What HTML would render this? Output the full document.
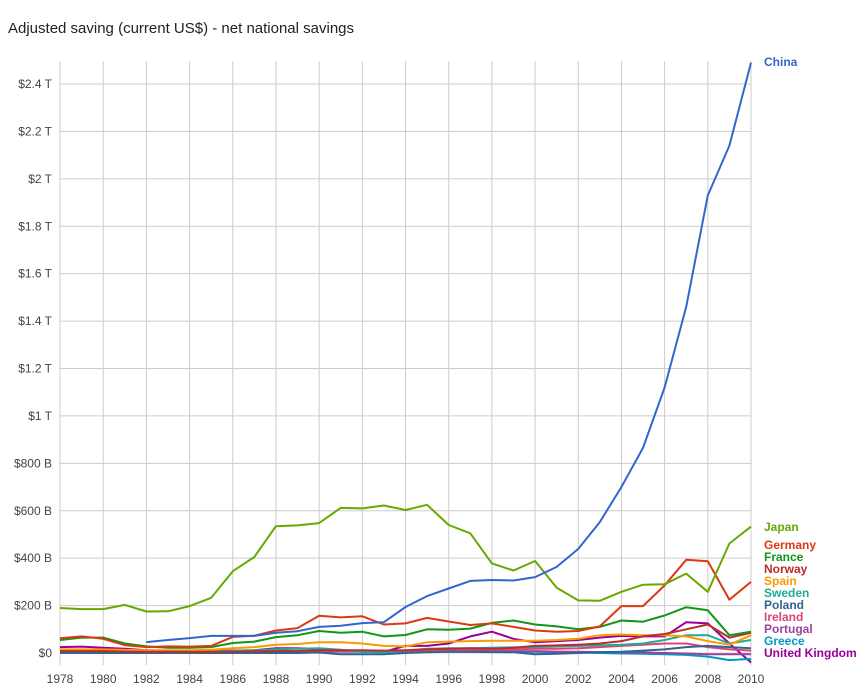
<!DOCTYPE html>
<html><head><meta charset="utf-8"><style>
body{margin:0;background:#fff;font-family:"Liberation Sans",Arial,sans-serif;}
svg{display:block}
</style></head><body>
<svg id="chart" width="858" height="691" xmlns="http://www.w3.org/2000/svg">
<text x="8" y="33" font-size="15" fill="#222">Adjusted saving (current US$) - net national savings</text>
<g id="grid"></g><g id="lines"></g><g id="labels"></g>
</svg>
<script>
const years=[];for(let y=1978;y<=2010;y++)years.push(y);
const yTicks=[0,200,400,600,800,1000,1200,1400,1600,1800,2000,2200,2400];
const yTickLabels=["$0","$200 B","$400 B","$600 B","$800 B","$1 T","$1.2 T","$1.4 T","$1.6 T","$1.8 T","$2 T","$2.2 T","$2.4 T"];
const xTicks=[1978,1980,1982,1984,1986,1988,1990,1992,1994,1996,1998,2000,2002,2004,2006,2008,2010];
const names=["China","Japan","Germany","France","Norway","Spain","Sweden","Poland","Ireland","Portugal","Greece","United Kingdom"];
const colors=["#3366cc","#66aa00","#dc3912","#109618","#b82e2e","#ff9900","#22aa99","#316395","#dd4477","#994499","#0099c6","#990099"];
const chinaVals=[null,null,null,null,46,55,63,72,72,72,85,92,110,115,126,130,194,240,272,304,308,306,320,363,439,552,700,865,1120,1460,1930,2140,2490];
const japanVals=[190,185,185,203,175,176,198,233,345,405,535,538,548,612,610,622,603,625,540,505,378,348,388,275,222,220,258,288,290,335,258,462,533];
const germanyVals=[62,70,60,33,25,28,27,30,68,73,95,105,157,150,155,120,125,148,133,118,125,110,95,90,93,112,198,198,285,393,387,225,300];
const franceVals=[55,65,65,40,28,22,22,25,42,48,67,75,93,85,90,70,76,100,98,103,127,137,120,112,100,110,137,132,158,193,180,75,90];
const norwayVals=[8,8,8,6,5,5,5,5,6,7,8,9,12,12,12,10,12,15,18,20,18,22,30,32,35,40,50,70,80,100,120,65,85];
const spainVals=[15,15,15,13,12,12,12,14,20,25,35,38,45,45,40,30,28,45,48,50,52,52,52,55,60,75,78,75,75,70,50,35,75];
const swedenVals=[8,8,8,7,6,6,6,7,10,12,16,18,20,14,5,2,10,18,20,20,22,24,25,28,30,33,35,40,55,75,75,40,55];
const polandVals=[0,0,0,0,0,0,0,0,0,0,0,0,2,-5,-5,-5,0,3,5,5,4,3,-5,-3,0,3,5,10,15,25,30,25,20];
const irelandVals=[3,3,3,3,3,3,3,3,3,4,5,6,7,7,7,7,8,10,12,14,15,16,18,18,20,25,30,35,40,40,25,15,10];
const portugalVals=[4,4,4,3,3,3,3,4,5,6,7,8,8,8,8,7,7,8,8,8,8,8,8,6,5,4,3,2,0,-2,-5,-5,-5];
const greeceVals=[5,5,5,5,5,5,5,5,5,5,5,6,6,6,6,5,5,5,5,5,5,5,5,3,2,0,-2,-3,-5,-8,-15,-30,-25];
const ukVals=[25,27,22,18,12,10,10,10,10,12,20,20,18,10,5,5,30,30,40,70,90,60,45,50,55,65,72,70,70,130,125,40,-40];
const series=[chinaVals,japanVals,germanyVals,franceVals,norwayVals,spainVals,swedenVals,polandVals,irelandVals,portugalVals,greeceVals,ukVals];
const legendY=[62,527,545,557,569,581,593,605,617,629,641,653];
const X0=60,X1=751,Y0=653,YT=84;
const xs=y=>X0+(y-1978)*(X1-X0)/32;
const ys=v=>Y0-v*(Y0-YT)/2400;
const NS="http://www.w3.org/2000/svg";
function mk(t,a){const e=document.createElementNS(NS,t);for(const k in a)e.setAttribute(k,a[k]);return e;}
const grid=document.getElementById('grid'),lines=document.getElementById('lines'),labels=document.getElementById('labels');
xTicks.forEach(t=>{
 const l=mk('line',{x1:xs(t),x2:xs(t),y1:61,y2:665,stroke:'#ccc','stroke-width':1});
 
 
 grid.appendChild(l);
 const tx=mk('text',{x:xs(t),y:683,'font-size':12,fill:'#444','text-anchor':'middle'});tx.textContent=t;
 
 
 labels.appendChild(tx);
});
yTicks.forEach((t,i)=>{
 const l=mk('line',{x1:X0,x2:X1,y1:ys(t),y2:ys(t),stroke:'#ccc','stroke-width':1});
 
 
 grid.appendChild(l);
 const tx=mk('text',{x:52,y:ys(t)+4,'font-size':12,fill:'#444','text-anchor':'end'});tx.textContent=yTickLabels[i];
 
 
 labels.appendChild(tx);
});
for(let s=series.length-1;s>=0;s--){
 const v=series[s];let d='';let pen=false;
 v.forEach((val,i)=>{if(val===null){pen=false;return;}d+=(pen?'L':'M')+xs(years[i]).toFixed(1)+','+ys(val).toFixed(1);pen=true;});
 const p=mk('path',{d:d,fill:'none',stroke:colors[s],'stroke-width':2,'stroke-linejoin':'round'});
 
 
 lines.appendChild(p);
 const tx=mk('text',{x:764,y:legendY[s]+4,'font-size':12,'font-weight':'bold',fill:colors[s]});tx.textContent=names[s];
 
 
 labels.appendChild(tx);
}
</script>
</body></html>
